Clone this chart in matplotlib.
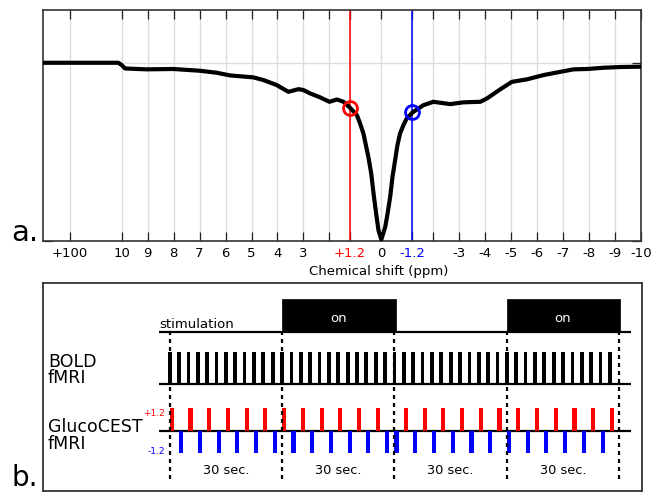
import matplotlib
matplotlib.use("Agg")
import matplotlib.pyplot as plt

# ---------------- data: panel a (Z-spectrum) ----------------
ppm = [13.0, 10.13, 10.0, 9.87, 9.04, 8.01, 6.98, 6.34, 5.83, 4.93, 4.54, 4.03, 3.58,
       3.19, 3.0, 2.74, 2.36, 2.0, 1.71, 1.46, 1.2, 0.94, 0.82, 0.69, 0.5, 0.39, 0.30,
       0.2, 0.11, 0.0, -0.15, -0.24, -0.34, -0.43, -0.53, -0.62, -0.72, -0.85, -0.98,
       -1.2, -1.62, -2.0, -2.65, -3.16, -3.81, -4.07, -4.58, -5.03, -5.61, -6.25,
       -6.89, -7.4, -7.92, -8.56, -9.2, -10.0]
signal = [1.0, 1.0, 0.987, 0.968, 0.963, 0.965, 0.955, 0.944, 0.929, 0.918, 0.903, 0.875,
          0.837, 0.852, 0.847, 0.828, 0.806, 0.781, 0.794, 0.781, 0.747, 0.706, 0.66,
          0.603, 0.472, 0.379, 0.266, 0.154, 0.06, 0.008, 0.079, 0.154, 0.247, 0.36,
          0.453, 0.538, 0.603, 0.65, 0.688, 0.721, 0.762, 0.781, 0.768, 0.778, 0.781,
          0.80, 0.851, 0.893, 0.907, 0.931, 0.949, 0.963, 0.965, 0.972, 0.976, 0.978]
sat_pos = 1.2
sat_neg = -1.2
sat_pos_val = 0.744
sat_neg_val = 0.721
tick_pos = [12, 10, 9, 8, 7, 6, 5, 4, 3, 2, 1.2, 0, -1.2, -2, -3, -4, -5, -6, -7, -8, -9, -10]
tick_lab = ['+100', '10', '9', '8', '7', '6', '5', '4', '3', '', '+1.2', '0', '-1.2', '',
            '-3', '-4', '-5', '-6', '-7', '-8', '-9', '-10']

# ---------------- data: panel b (timing) ----------------
block_edges = [0, 30, 60, 90, 120]
stim_on = [(30, 60), (90, 120)]
block_label = '30 sec.'
bold_t = [0, 2.5, 5, 7.5, 10, 12.5, 15, 17.5, 20, 22.5, 25, 27.5,
          30, 32.5, 35, 37.5, 40, 42.5, 45, 47.5, 50, 52.5, 55, 57.5,
          60, 62.5, 65, 67.5, 70, 72.5, 75, 77.5, 80, 82.5, 85, 87.5,
          90, 92.5, 95, 97.5, 100, 102.5, 105, 107.5, 110, 112.5, 115, 117.5]
red_t = [0, 5, 10, 15, 20, 25, 30, 35, 40, 45, 50, 55,
         62.5, 67.5, 72.5, 77.5, 82.5, 87.5, 92.5, 97.5, 102.5, 107.5, 112.5, 117.5]
blue_t = [2.5, 7.5, 12.5, 17.5, 22.5, 27.5, 32.5, 37.5, 42.5, 47.5, 52.5, 57.5,
          60, 65, 70, 75, 80, 85, 90, 95, 100, 105, 110, 115]

W, H = 651, 492
fig = plt.figure(figsize=(W / 100, H / 100), dpi=100)

# ---------------- panel a ----------------
ax1 = fig.add_axes([43 / W, 1 - 241 / H, 598 / W, 231 / H])
ax1.set_xlim(13.03, -10.0)
ax1.set_ylim(0, 1.296)
ax1.set_xticks(tick_pos)
ax1.set_xticklabels(tick_lab)
ax1.set_yticks([0, 1])
ax1.set_yticklabels([])
ax1.grid(True, color='#dcdcdc', lw=1.0, zorder=0)
ax1.set_axisbelow(True)
ax1.tick_params(direction='in', top=True, right=True, length=6.5, width=0.9,
                labelsize=9.5, pad=4, color='#222222')
for lab in ax1.get_xticklabels():
    if lab.get_text() == '+1.2':
        lab.set_color('red')
    elif lab.get_text() == '-1.2':
        lab.set_color('blue')
for sp in ax1.spines.values():
    sp.set_color('#333333')
    sp.set_linewidth(1.2)

ax1.axvline(sat_pos, color='red', lw=1.1, zorder=2)
ax1.axvline(sat_neg, color='blue', lw=1.1, zorder=2)
ax1.plot(ppm, signal, color='black', lw=3.0, solid_joinstyle='round',
         solid_capstyle='round', zorder=3, clip_on=True)
ax1.plot([sat_pos], [sat_pos_val], 'o', mfc='none', mec='red', ms=10, mew=2.0, zorder=4)
ax1.plot([sat_neg], [sat_neg_val], 'o', mfc='none', mec='blue', ms=10, mew=2.0, zorder=4)
ax1.set_xlabel('Chemical shift (ppm)', fontsize=9.5, labelpad=3)
ax1.xaxis.set_label_coords(0.561, -0.105)

fig.text(11 / W, 1 - 240.7 / H, 'a.', fontsize=21, va='baseline', ha='left')
fig.text(11 / W, 6.5 / H, 'b.', fontsize=20, va='baseline', ha='left')

# ---------------- panel b ----------------
ax2 = fig.add_axes([43 / W, 1 - 491 / H, 599 / W, (491 - 283.3) / H])
ax2.set_xlim(-33.81, 126.07)
ax2.set_ylim(0, 207.7)
ax2.set_xticks([])
ax2.set_yticks([])
for sp in ax2.spines.values():
    sp.set_color('#333333')
    sp.set_linewidth(1.3)

y_stim, y_bold, y_cest = 158.7, 107.0, 60.3
x0, x1 = -2.8, 123.2
for yb in (y_stim, y_bold, y_cest):
    ax2.plot([x0, x1], [yb, yb], color='black', lw=1.6, solid_capstyle='butt', zorder=3)

for s, e in stim_on:
    ax2.bar(s, 33.0, width=(e - s) + 0.3, bottom=y_stim, align='edge', color='black',
            edgecolor='black', lw=0.5, zorder=3)
    ax2.text((s + e) / 2, 169.3, 'on', color='white', fontsize=9.5, ha='center',
             va='baseline', zorder=4)
ax2.text(x0, 162.7, 'stimulation', fontsize=9.5, ha='left', va='baseline')

ax2.bar(bold_t, 32.3, width=1.0, bottom=y_bold, color='black', zorder=3)
ax2.bar(red_t, 22.4, width=1.1, bottom=y_cest, align='edge', color='red', zorder=3)
ax2.bar(blue_t, -22.6, width=1.1, bottom=y_cest, align='edge', color='blue', zorder=3)

for xe in block_edges:
    ax2.plot([xe, xe], [12, 158], color='black', lw=1.6, ls=(0, (1.8, 1.8)), zorder=5)
for i in range(len(block_edges) - 1):
    ax2.text((block_edges[i] + block_edges[i + 1]) / 2, 16.7, block_label, fontsize=9.3,
             ha='center', va='baseline')

ax2.text(-32.5, 124.3, 'BOLD', fontsize=12.5, ha='left', va='baseline')
ax2.text(-32.5, 107.7, 'fMRI', fontsize=12.5, ha='left', va='baseline')
ax2.text(-32.5, 59.3, 'GlucoCEST', fontsize=12.5, ha='left', va='baseline')
ax2.text(-32.5, 41.7, 'fMRI', fontsize=12.5, ha='left', va='baseline')
ax2.text(-1.3, 75.0, '+1.2', color='red', fontsize=6.5, ha='right', va='baseline')
ax2.text(-1.3, 36.5, '-1.2', color='blue', fontsize=6.5, ha='right', va='baseline')

fig.savefig('out.png', dpi=100)
